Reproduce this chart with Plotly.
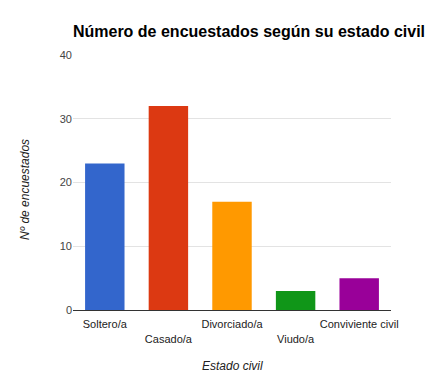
import plotly.graph_objects as go

categories = ["Soltero/a", "Casado/a", "Divorciado/a", "Viudo/a", "Conviviente civil"]
values = [23, 32, 17, 3, 5]
colors = ["#3366cc", "#dc3912", "#ff9900", "#109618", "#990099"]
tick_labels = ["Soltero/a", "<br>Casado/a", "Divorciado/a", "<br>Viudo/a", "Conviviente civil"]
y_ticks = [0, 10, 20, 30, 40]

L, R, T, B = 73, 45, 55, 66
W, H = 436, 376
pw, ph = W - L - R, H - T - B

fig = go.Figure(go.Bar(x=categories, y=values, marker=dict(color=colors, line=dict(width=0)),
                       width=0.62))

fig.update_layout(
    width=W, height=H,
    margin=dict(l=L, r=R, t=T, b=B, autoexpand=False),
    paper_bgcolor="white", plot_bgcolor="white",
    font=dict(family="Liberation Sans, Arial, sans-serif", size=11, color="#444444"),
    title=dict(text="<b>Número de encuestados según su estado civil</b>",
               x=249/W, xanchor="center", y=1-31/H, yanchor="middle",
               font=dict(size=16, color="#000000")),
    showlegend=False,
    xaxis=dict(tickmode="array", tickvals=categories, ticktext=tick_labels,
               range=[-0.5, 4.5], showgrid=False, showline=True, linecolor="#333333",
               linewidth=1, ticks="", tickfont=dict(size=11, color="#222222"),
               ticklabelstandoff=4, automargin=False),
    yaxis=dict(range=[0, 40], tickvals=y_ticks, showgrid=True, gridcolor="#e3e3e3",
               zeroline=False, ticks="", tickfont=dict(size=11, color="#444444"),
               automargin=False),
    annotations=[
        dict(text="<i>Estado civil</i>", xref="paper", yref="paper",
             x=(232 - L)/pw, y=(T + ph - 366)/ph, xanchor="center", yanchor="middle",
             showarrow=False, font=dict(size=12, color="#222222")),
        dict(text="<i>Nº de encuestados</i>", xref="paper", yref="paper",
             x=(25 - L)/pw, y=(T + ph - 190)/ph, xanchor="center", yanchor="middle",
             textangle=-90, showarrow=False, font=dict(size=12, color="#222222")),
    ],
)

fig.write_html("out.html", config={"displayModeBar": False},
               post_script="document.body.style.margin='0';")
